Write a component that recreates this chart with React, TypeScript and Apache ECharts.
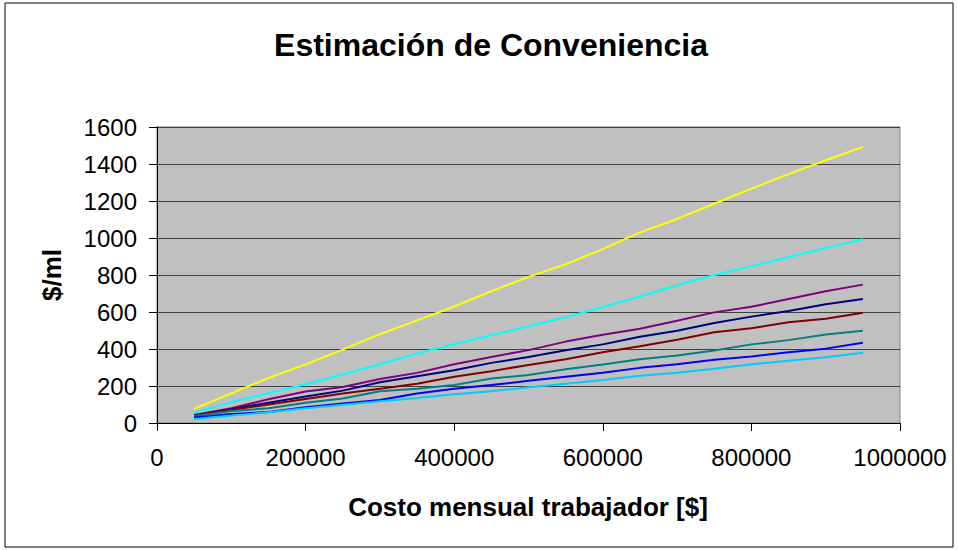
import React, { useEffect, useRef } from "react";
import * as echarts from "echarts";

const xValues = [50000, 100000, 150000, 200000, 250000, 300000, 350000, 400000, 450000, 500000, 550000, 600000, 650000, 700000, 750000, 800000, 850000, 900000, 950000];

const yellowVals = [76, 160, 243, 317, 397, 480, 555, 630, 712, 790, 858, 940, 1030, 1103, 1185, 1267, 1345, 1420, 1492];
const cyanVals = [56, 113, 162, 209, 262, 318, 376, 426, 474, 523, 572, 627, 684, 745, 800, 847, 897, 946, 994];
const purpleVals = [43, 80, 128, 170, 195, 238, 271, 318, 357, 394, 440, 477, 510, 553, 598, 628, 670, 712, 748];
const navyVals = [40, 75, 110, 143, 175, 220, 253, 285, 325, 357, 393, 425, 466, 499, 540, 575, 605, 642, 670];
const darkRedVals = [40, 70, 100, 130, 160, 185, 212, 250, 280, 314, 345, 383, 415, 450, 490, 512, 545, 563, 596];
const tealVals = [37, 65, 80, 110, 133, 172, 185, 205, 240, 260, 290, 316, 345, 365, 392, 425, 448, 478, 499];
const blueVals = [30, 48, 60, 85, 106, 124, 160, 185, 205, 228, 250, 272, 298, 318, 342, 360, 383, 402, 434];
const skyVals = [22, 40, 58, 80, 98, 118, 135, 155, 172, 193, 212, 232, 255, 272, 293, 318, 336, 356, 380];

const seriesDefs = [
  { name: "S1", color: "#FFFF00", values: yellowVals },
  { name: "S2", color: "#00FFFF", values: cyanVals },
  { name: "S3", color: "#800080", values: purpleVals },
  { name: "S4", color: "#000080", values: navyVals },
  { name: "S5", color: "#800000", values: darkRedVals },
  { name: "S6", color: "#008080", values: tealVals },
  { name: "S7", color: "#0000FF", values: blueVals },
  { name: "S8", color: "#00CCFF", values: skyVals },
];

const titleText = "Estimación de Conveniencia";
const xAxisTitle = "Costo mensual trabajador [$]";
const yAxisTitle = "$/ml";

const FONT = "'Liberation Sans', Arial, sans-serif";

export default function App() {
  const ref = useRef<HTMLDivElement>(null);

  useEffect(() => {
    if (!ref.current) return;
    const chart = echarts.init(ref.current, null, { renderer: "svg" });
    chart.setOption({
      animation: false,
      backgroundColor: "#FFFFFF",
      grid: { left: 157, right: 58, top: 127, bottom: 127, show: true, backgroundColor: "#C0C0C0", borderColor: "#808080", borderWidth: 1 },
      xAxis: {
        type: "value",
        min: 0,
        max: 1000000,
        interval: 200000,
        axisLine: { show: true, onZero: false, lineStyle: { color: "#000000", width: 1 } },
        axisTick: { show: true, length: 8, lineStyle: { color: "#000000" } },
        axisLabel: { color: "#000000", fontSize: 24, fontFamily: FONT, margin: 22, formatter: (v: number) => String(v) },
        splitLine: { show: false },
      },
      yAxis: {
        type: "value",
        min: 0,
        max: 1600,
        interval: 200,
        axisLine: { show: true, lineStyle: { color: "#000000", width: 1 } },
        axisTick: { show: true, length: 8, lineStyle: { color: "#000000" } },
        axisLabel: { color: "#000000", fontSize: 24, fontFamily: FONT, margin: 20, formatter: (v: number) => String(v) },
        splitLine: { show: true, lineStyle: { color: "#404040", width: 1 } },
      },
      graphic: [
        { type: "rect", shape: { x: 5, y: 3, width: 948, height: 544 }, style: { fill: "none", stroke: "#000000", lineWidth: 1 }, silent: true },
        { type: "text", x: 491, y: 45, style: { text: titleText, fill: "#000", font: `bold 32px ${FONT}`, textAlign: "center", textVerticalAlign: "middle" } },
        { type: "text", x: 528, y: 507, style: { text: xAxisTitle, fill: "#000", font: `bold 26px ${FONT}`, textAlign: "center", textVerticalAlign: "middle" } },
        { type: "text", x: 52, y: 275, rotation: Math.PI / 2, style: { text: yAxisTitle, fill: "#000", font: `bold 26px ${FONT}`, textAlign: "center", textVerticalAlign: "middle" } },
      ],
      series: seriesDefs.map((s) => ({
        name: s.name,
        type: "line",
        data: xValues.map((x, i) => [x, s.values[i]]),
        showSymbol: false,
        symbol: "none",
        lineStyle: { color: s.color, width: 2 },
        itemStyle: { color: s.color },
      })),
    });
    return () => chart.dispose();
  }, []);

  return (
    <div
      ref={ref}
      style={{ position: "fixed", left: 0, top: 0, width: 958, height: 550 }}
    />
  );
}
